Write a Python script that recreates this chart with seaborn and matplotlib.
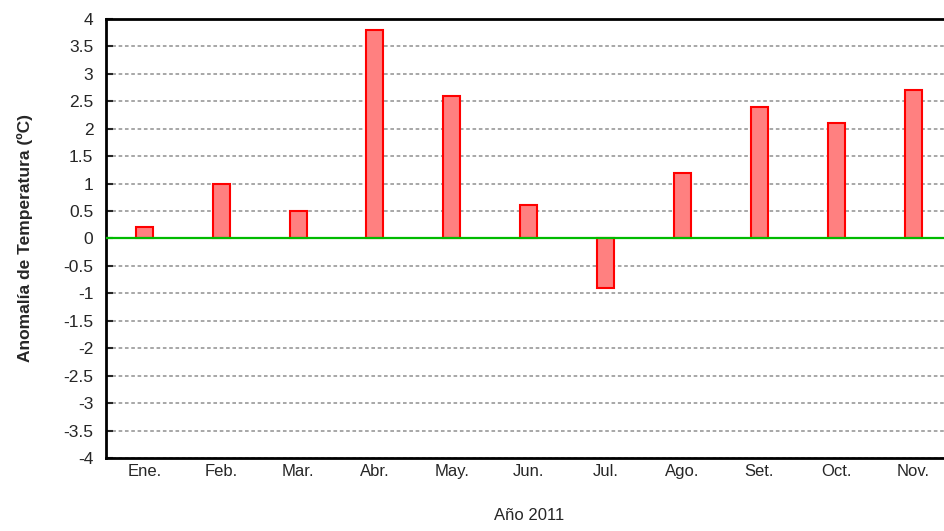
import numpy as np
import pandas as pd
import seaborn as sns
import matplotlib.pyplot as plt

months = ["Ene.", "Feb.", "Mar.", "Abr.", "May.", "Jun.", "Jul.", "Ago.", "Set.", "Oct.", "Nov."]
anomaly = [0.2, 1.0, 0.5, 3.8, 2.6, 0.6, -0.9, 1.2, 2.4, 2.1, 2.7]
yticks = np.arange(-4, 4.01, 0.5)

df = pd.DataFrame({"Mes": months, "Anomalia": anomaly})

sns.set_style("white")
plt.rcParams['font.family'] = ['Liberation Sans', 'DejaVu Sans']

fig = plt.figure(figsize=(9.45, 5.31), dpi=100)
ax = fig.add_axes([0.112, 0.1375, 0.895, 0.827])

for y in yticks:
    if y != 0:
        ax.axhline(y, color='#a0a0a0', lw=1.3, ls=(0, (2, 1.5)), zorder=0)

sns.barplot(data=df, x="Mes", y="Anomalia", color='#ff8080', width=0.22,
            edgecolor='red', linewidth=1.5, saturation=1, ax=ax, zorder=2)
ax.axhline(0, color='#00bb00', lw=1.6, zorder=3)

ax.set_ylim(-4, 4)
ax.set_xlim(-0.5, 10.5)
ax.set_yticks(yticks)
ax.set_yticklabels([f"{v:g}" for v in yticks], fontsize=12.5)
ax.tick_params(axis='y', direction='in', length=5, width=1.5, left=True, pad=9)
ax.tick_params(axis='x', length=0, labelsize=12, pad=4)

for side in ['left', 'top', 'bottom']:
    ax.spines[side].set_color('black')
    ax.spines[side].set_linewidth(2)
ax.spines['right'].set_visible(False)

ax.set_xlabel("Año 2011", fontsize=12, labelpad=21)
ax.set_ylabel("Anomalía de Temperatura (ºC)", fontsize=12.5, fontweight='bold', labelpad=22)

fig.savefig("out.png", dpi=100)
